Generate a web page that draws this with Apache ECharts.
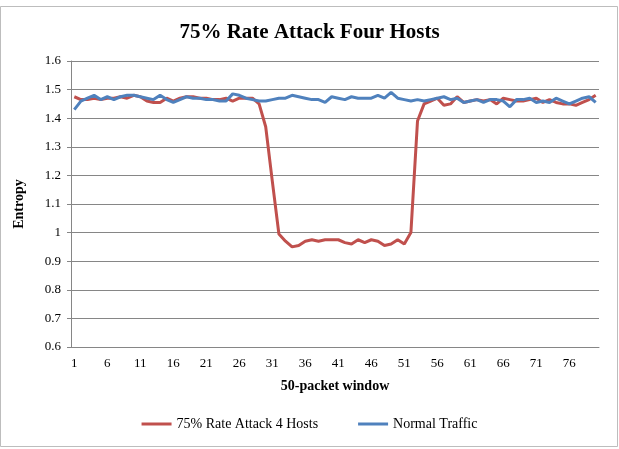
<!DOCTYPE html>
<html>
<head>
<meta charset="utf-8">
<script src="https://cdn.jsdelivr.net/npm/echarts@6/dist/echarts.min.js"></script>
<style>
  html, body { margin: 0; padding: 0; background: #fff; }
  #chart { width: 619px; height: 449px; }
</style>
</head>
<body>
<div id="chart"></div>
<script>
  // x 轴：50 个包一个窗口，共 80 个窗口
  const windows = [];
  for (let i = 1; i <= 80; i++) windows.push(String(i));

  const attackSeries = [
    1.475, 1.465, 1.465, 1.47, 1.465, 1.47, 1.47, 1.475, 1.47, 1.48,
    1.475, 1.46, 1.455, 1.455, 1.47, 1.46, 1.47, 1.475, 1.475, 1.47,
    1.47, 1.465, 1.465, 1.47, 1.46, 1.47, 1.47, 1.47, 1.45, 1.37,
    1.18, 0.995, 0.97, 0.95, 0.955, 0.97, 0.975, 0.97, 0.975, 0.975,
    0.975, 0.965, 0.96, 0.975, 0.965, 0.975, 0.97, 0.955, 0.96, 0.975,
    0.96, 1.0, 1.39, 1.45, 1.46, 1.47, 1.445, 1.45, 1.475, 1.455,
    1.46, 1.465, 1.46, 1.465, 1.45, 1.47, 1.465, 1.46, 1.46, 1.465,
    1.47, 1.455, 1.465, 1.455, 1.45, 1.45, 1.445, 1.455, 1.465, 1.48
  ];

  const normalSeries = [
    1.43, 1.46, 1.47, 1.48, 1.465, 1.475, 1.465, 1.475, 1.48, 1.48,
    1.475, 1.47, 1.465, 1.48, 1.465, 1.455, 1.465, 1.475, 1.47, 1.47,
    1.465, 1.465, 1.46, 1.46, 1.485, 1.48, 1.47, 1.465, 1.46, 1.46,
    1.465, 1.47, 1.47, 1.48, 1.475, 1.47, 1.465, 1.465, 1.455, 1.475,
    1.47, 1.465, 1.475, 1.47, 1.47, 1.47, 1.48, 1.47, 1.49, 1.47,
    1.465, 1.46, 1.465, 1.46, 1.465, 1.47, 1.475, 1.465, 1.47, 1.455,
    1.46, 1.465, 1.455, 1.465, 1.465, 1.46, 1.44, 1.465, 1.465, 1.47,
    1.455, 1.46, 1.455, 1.47, 1.46, 1.45, 1.46, 1.47, 1.475, 1.455
  ];

  const serif = "'Liberation Serif', 'DejaVu Serif', serif";
  const chart = echarts.init(document.getElementById("chart"));

  const option = {
    backgroundColor: "#fff",
    animation: false,
    title: {
      text: "75% Rate Attack Four Hosts",
      left: "center",
      top: 17,
      textStyle: { fontFamily: serif, fontSize: 21, fontWeight: "bold", color: "#000" }
    },
    legend: {
      bottom: 13,
      left: "center",
      itemGap: 40,
      itemWidth: 30,
      itemHeight: 3,
      icon: "rect",
      textStyle: { fontFamily: serif, fontSize: 14, color: "#000" },
      data: ["75% Rate Attack 4 Hosts", "Normal Traffic"]
    },
    grid: { left: 71, right: 20, top: 61, bottom: 102 },
    xAxis: {
      type: "category",
      data: windows,
      boundaryGap: true,
      name: "50-packet window",
      nameLocation: "middle",
      nameGap: 32,
      nameTextStyle: { fontFamily: serif, fontSize: 14, fontWeight: "bold", color: "#000" },
      axisLine: { lineStyle: { color: "#868686" } },
      axisTick: { interval: 0, length: 4, lineStyle: { color: "#868686" } },
      axisLabel: { interval: 4, fontFamily: serif, fontSize: 13, color: "#000", margin: 10 }
    },
    yAxis: {
      type: "value",
      min: 0.6,
      max: 1.6,
      interval: 0.1,
      name: "Entropy",
      nameLocation: "middle",
      nameGap: 45,
      nameRotate: 90,
      nameTextStyle: { fontFamily: serif, fontSize: 14, fontWeight: "bold", color: "#000" },
      axisLine: { show: true, lineStyle: { color: "#868686" } },
      axisTick: { show: true, length: 4, lineStyle: { color: "#868686" } },
      splitLine: { lineStyle: { color: "#868686" } },
      axisLabel: {
        fontFamily: serif, fontSize: 13, color: "#000", margin: 10,
        formatter: v => String(+v.toFixed(1))
      }
    },
    graphic: [{
      type: "rect",
      shape: { x: 0.5, y: 6.5, width: 617, height: 440 },
      style: { fill: null, stroke: "#bdbdbd", lineWidth: 1 },
      silent: true
    }],
    series: [
      {
        name: "75% Rate Attack 4 Hosts",
        type: "line",
        data: attackSeries,
        symbol: "none",
        itemStyle: { color: "#C0504D" },
        lineStyle: { width: 3, color: "#C0504D" }
      },
      {
        name: "Normal Traffic",
        type: "line",
        data: normalSeries,
        symbol: "none",
        itemStyle: { color: "#4F81BD" },
        lineStyle: { width: 3, color: "#4F81BD" }
      }
    ]
  };

  chart.setOption(option);
</script>
</body>
</html>
